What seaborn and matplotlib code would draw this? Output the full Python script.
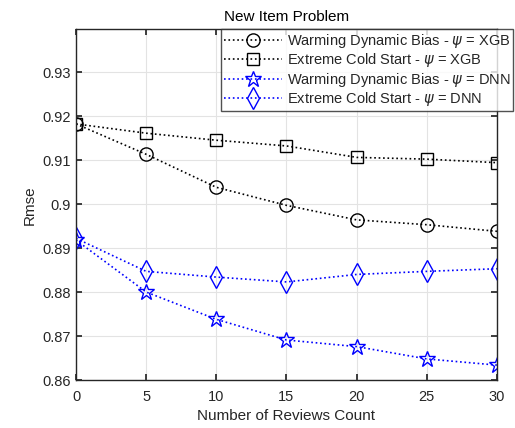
import pandas as pd
import matplotlib
matplotlib.use('Agg')
import matplotlib.pyplot as plt
import seaborn as sns
from matplotlib.ticker import FuncFormatter

reviews = [0, 5, 10, 15, 20, 25, 30]
warm_xgb = [0.9182, 0.9113, 0.9038, 0.8997, 0.8964, 0.8953, 0.8938]
cold_xgb = [0.9182, 0.9161, 0.9145, 0.9132, 0.9106, 0.9102, 0.9094]
warm_dnn = [0.8918, 0.8800, 0.8738, 0.8691, 0.8676, 0.8648, 0.8634]
cold_dnn = [0.8922, 0.8847, 0.8834, 0.8823, 0.8840, 0.8847, 0.8853]

labels = [r'Warming Dynamic Bias - $\psi$ = XGB',
          r'Extreme Cold Start - $\psi$ = XGB',
          r'Warming Dynamic Bias - $\psi$ = DNN',
          r'Extreme Cold Start - $\psi$ = DNN']

sns.set_theme(style='ticks')
plt.rcParams['font.family'] = ['Liberation Sans', 'DejaVu Sans']
plt.rcParams['mathtext.fontset'] = 'dejavusans'

fig = plt.figure(figsize=(5.15, 4.28), dpi=100)
ax = fig.add_axes([0.1476, 0.112, 0.8174, 0.8195])

#one call per series, matlab-ish open markers and dotted lines
series = [(warm_xgb, 'o', 'black', 9.5),
          (cold_xgb, 's', 'black', 9),
          (warm_dnn, '*', 'blue', 12),
          (cold_dnn, 'd', 'blue', 11)]
for (vals, mk, col, ms), lab in zip(series, labels):
    df = pd.DataFrame({'x': reviews, 'y': vals})
    sns.lineplot(data=df, x='x', y='y', ax=ax, color=col, linestyle=':', linewidth=1.2,
                 marker=mk, markersize=ms, markerfacecolor='none',
                 markeredgecolor=col, markeredgewidth=1.0, label=lab)

ax.set_xlim(0, 30)
ax.set_ylim(0.86, 0.9397)
ax.set_xticks(reviews)
ax.set_yticks([0.86, 0.87, 0.88, 0.89, 0.9, 0.91, 0.92, 0.93])
ax.yaxis.set_major_formatter(FuncFormatter(lambda v, p: '%g' % round(v, 3)))
ax.grid(True, color='#e3e3e3', linewidth=0.8)
ax.tick_params(direction='in', top=True, right=True, labelsize=10.5, colors='#262626', length=4)
ax.tick_params(axis='x', pad=7)
for s in ax.spines.values():
    s.set_color('#262626')
    s.set_linewidth(1.0)
ax.set_xlabel('Number of Reviews Count', fontsize=11, color='#262626')
ax.set_ylabel('Rmse', fontsize=11, color='#262626')
ax.set_title('New Item Problem', fontsize=11, color='black', pad=6)

leg = ax.legend(loc='upper right', bbox_to_anchor=(0.997, 0.932), bbox_transform=fig.transFigure,
                fontsize=10.5, frameon=True, fancybox=False, edgecolor='#262626',
                borderpad=0.2, labelspacing=0.1, handlelength=4.0, handletextpad=0.3,
                borderaxespad=0)
leg.get_frame().set_linewidth(1.0)
for t in leg.get_texts():
    t.set_color('#262626')

fig.savefig('out.png', dpi=100)
